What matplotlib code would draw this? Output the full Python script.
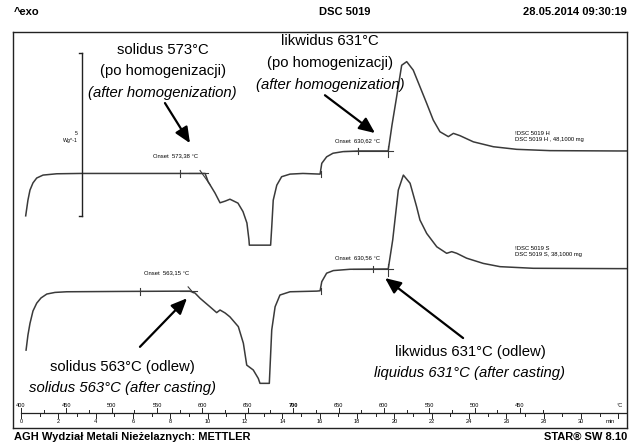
import matplotlib
matplotlib.use('Agg')
import matplotlib.pyplot as plt
from matplotlib import font_manager as fm

names = {f.name for f in fm.fontManager.ttflist}
if 'Liberation Sans Narrow' in names:
    FAM, K = 'Liberation Sans Narrow', 1.0
else:
    FAM, K = 'Liberation Sans', 0.84
plt.rcParams['font.family'] = [FAM, 'DejaVu Sans']

# ---------------- data: DSC curves (time in min, heat flow in W/g, offset) ----------------
t_H = [0.25, 0.37, 0.48, 0.64, 0.84, 1.18, 1.91, 3.16, 6.91, 8.25, 9.48, 9.86, 10.02, 10.39,
       10.66, 10.93, 11.19, 11.62, 11.89, 12.10, 12.21, 12.23, 13.37, 13.43, 13.51, 13.70,
       13.96, 14.41, 15.10, 16.02, 16.11, 16.37, 16.71, 17.25, 18.16, 19.67, 19.87, 20.12,
       20.39, 20.66, 21.01, 21.37, 21.73, 22.08, 22.44, 22.89, 23.16, 23.51, 24.23, 25.30,
       26.55, 28.33, 31.91, 32.46]
q_H = [6.51, 6.99, 7.30, 7.52, 7.67, 7.76, 7.80, 7.81, 7.81, 7.81, 7.81, 7.81, 7.56, 7.21,
       6.91, 6.96, 7.02, 6.90, 6.64, 6.29, 5.77, 5.61, 5.61, 6.17, 6.99, 7.45,
       7.71, 7.79, 7.81, 7.79, 8.12, 8.32, 8.43, 8.48, 8.50, 8.50, 9.29, 10.16,
       11.13, 11.24, 10.98, 10.47, 9.96, 9.45, 9.09, 8.94, 9.04, 8.97, 8.78, 8.63,
       8.55, 8.51, 8.50, 8.50]

t_S = [0.27, 0.37, 0.48, 0.64, 0.84, 1.07, 1.38, 1.82, 2.45, 5.30, 9.05, 9.32, 9.59, 10.12,
       10.48, 10.66, 10.93, 11.19, 11.64, 11.91, 12.09, 12.44, 12.71, 12.80, 13.30, 13.43,
       13.61, 13.87, 14.41, 15.84, 16.02, 16.11, 16.37, 16.73, 17.62, 19.67, 19.91, 20.21,
       20.48, 20.84, 21.19, 21.37, 21.73, 22.27, 22.80, 23.07, 23.34, 23.87, 24.76, 25.66,
       27.44, 31.91, 32.46]
q_S = [2.39, 2.85, 3.21, 3.59, 3.83, 3.99, 4.11, 4.16, 4.18, 4.19, 4.20, 4.14, 3.98, 3.72,
       3.54, 3.62, 3.53, 3.41, 3.11, 2.60, 1.93, 1.78, 1.52, 1.37, 1.37, 3.01,
       3.72, 4.08, 4.18, 4.20, 4.21, 4.49, 4.75, 4.83, 4.87, 4.88, 5.77, 7.30,
       7.76, 7.51, 6.79, 6.38, 5.97, 5.56, 5.36, 5.41, 5.36, 5.21, 5.05, 4.95,
       4.90, 4.89, 4.89]

# onset values / labels
onset_labels = ['Onset  573,38 °C', 'Onset  630,62 °C', 'Onset  563,15 °C', 'Onset  630,56 °C']
sample_H = ['!DSC 5019 H', 'DSC 5019 H , 48,1000 mg']
sample_S = ['!DSC 5019 S', 'DSC 5019 S, 38,1000 mg']

# temperature program (for the temperature scale)
T_start, T_max, rate = 400, 700, 20.58
temp_labels = [400, 450, 500, 550, 600, 650, 700, 650, 600, 550, 500, 450]
time_ticks = list(range(0, 33))
time_labels = list(range(0, 31, 2))

header = ['^exo', 'DSC 5019', '28.05.2014 09:30:19']
footer = ['AGH Wydział Metali Nieżelaznych: METTLER', 'STAR® SW 8.10']

# ---------------- figure ----------------
W, H = 629, 444
fig = plt.figure(figsize=(W / 100, H / 100), dpi=100)
ax = fig.add_axes([13 / W, 16 / H, 614 / W, 396 / H])
ax.set_xlim(-0.43, 32.46)
ax.set_ylim(0, 12.15)
ax.set_xticks([]); ax.set_yticks([])
for s in ax.spines.values():
    s.set_linewidth(1.0)
    s.set_color('#222222')

CC = '#3a3a3a'
ax.plot(t_H, q_H, color=CC, lw=1.1)
ax.plot(t_S, q_S, color=CC, lw=1.1)

# onset constructions (baseline extensions + tangents)
lk = dict(color=CC, lw=0.8)
ax.plot([9.0, 10.0], [7.81, 7.81], **lk)
ax.plot([9.59, 10.12], [7.90, 7.47], **lk)
ax.plot([17.3, 19.95], [8.50, 8.50], **lk)
ax.plot([19.67, 19.67], [8.65, 8.32], **lk)
ax.plot([8.5, 9.45], [4.20, 4.20], **lk)
ax.plot([8.95, 9.22], [4.33, 4.15], **lk)
ax.plot([17.8, 19.95], [4.88, 4.88], **lk)
ax.plot([19.67, 19.67], [5.03, 4.66], **lk)
# integration limit marks
for tt, qq in [(8.52, 7.81), (18.05, 8.50), (16.06, 7.80), (6.37, 4.19), (18.85, 4.88), (16.06, 4.20)]:
    ax.plot([tt, tt], [qq - 0.1, qq + 0.1], **lk)

# scale bar 5 W/g
ax.plot([3.25, 3.25], [6.50, 11.51], color='#222222', lw=1.0)
ax.plot([3.12, 3.25], [6.50, 6.50], color='#222222', lw=1.0)
ax.plot([3.12, 3.25], [11.51, 11.51], color='#222222', lw=1.0)
ax.text(3.05, 9.03, '5', fontsize=4.4 * K, ha='right', va='center')
ax.text(3.05, 8.82, 'Wg^-1', fontsize=4.4 * K, ha='right', va='center')

# small labels
sf = 5.0 * K
ax.text(7.07, 8.35, onset_labels[0], fontsize=sf, va='center')
ax.text(16.82, 8.81, onset_labels[1], fontsize=sf, va='center')
ax.text(6.59, 4.76, onset_labels[2], fontsize=sf, va='center')
ax.text(16.82, 5.21, onset_labels[3], fontsize=sf, va='center')
ax.text(26.46, 9.05, sample_H[0], fontsize=sf, va='center')
ax.text(26.46, 8.84, sample_H[1], fontsize=sf, va='center')
ax.text(26.46, 5.52, sample_S[0], fontsize=sf, va='center')
ax.text(26.46, 5.33, sample_S[1], fontsize=sf, va='center')

# big annotations
bf = 12.8 * K
ax.text(7.59, 11.60, 'solidus 573°C', fontsize=bf, ha='center', va='center')
ax.text(7.59, 10.94, '(po homogenizacji)', fontsize=bf, ha='center', va='center')
ax.text(7.59, 10.27, '(after homogenization)', fontsize=bf, ha='center', va='center', style='italic')
ax.text(16.55, 11.87, 'likwidus 631°C', fontsize=bf, ha='center', va='center')
ax.text(16.55, 11.20, '(po homogenizacji)', fontsize=bf, ha='center', va='center')
ax.text(16.55, 10.52, '(after homogenization)', fontsize=bf, ha='center', va='center', style='italic')
ax.text(5.41, 1.88, 'solidus 563°C (odlew)', fontsize=bf, ha='center', va='center')
ax.text(5.41, 1.23, 'solidus 563°C (after casting)', fontsize=bf, ha='center', va='center', style='italic')
ax.text(24.05, 2.34, 'likwidus 631°C (odlew)', fontsize=bf, ha='center', va='center')
ax.text(24.05, 1.69, 'liquidus 631°C (after casting)', fontsize=bf, ha='center', va='center', style='italic')

ap = dict(arrowstyle='-|>,head_length=0.95,head_width=0.42', lw=1.6, color='black',
          mutation_scale=10, shrinkA=0, shrinkB=0)
ax.annotate('', xy=(9.05, 8.74), xytext=(7.71, 9.97), arrowprops=ap)
ax.annotate('', xy=(18.96, 9.05), xytext=(16.28, 10.21), arrowprops=ap)
ax.annotate('', xy=(8.89, 3.98), xytext=(6.37, 2.49), arrowprops=ap)
ax.annotate('', xy=(19.50, 4.60), xytext=(23.68, 2.76), arrowprops=ap)

# bottom time / temperature scale
yl = 0.46
ax.plot([0, 32.46], [yl, yl], color='#222222', lw=0.9)
for t in time_ticks:
    L = 0.15 if t % 2 == 0 else 0.09
    ax.plot([t, t], [yl, yl - L], color='#222222', lw=0.7)
for t in time_labels:
    ax.text(t, 0.19, str(t), fontsize=4.8 * K, ha='center', va='center')
ax.text(31.55, 0.19, 'min', fontsize=4.8 * K, ha='center', va='center')
t_peak = (T_max - T_start) / rate
for i, T in enumerate(temp_labels):
    tt = (T - T_start) / rate if i <= 6 else t_peak + (T_max - T) / rate
    ax.plot([tt, tt], [yl, yl + 0.15], color='#222222', lw=0.7)
    ax.text(tt, 0.68, str(T), fontsize=4.8 * K, ha='center', va='center',
            fontweight='bold' if T == T_max else 'normal')
for T in range(T_start + 25, T_max, 50):
    ax.plot([(T - T_start) / rate] * 2, [yl, yl + 0.09], color='#222222', lw=0.7)
    ax.plot([t_peak + (T_max - T) / rate] * 2, [yl, yl + 0.09], color='#222222', lw=0.7)
ax.text(32.05, 0.68, '°C', fontsize=4.8 * K, ha='center', va='center')

# header / footer
hf = 9.5 * K
fig.text(14 / W, 1 - 12 / H, header[0], fontsize=hf, fontweight='bold', ha='left', va='center')
fig.text(345 / W, 1 - 12 / H, header[1], fontsize=hf, fontweight='bold', ha='center', va='center')
fig.text(627 / W, 1 - 12 / H, header[2], fontsize=hf, fontweight='bold', ha='right', va='center')
fig.text(14 / W, 1 - 437 / H, footer[0], fontsize=hf, fontweight='bold', ha='left', va='center')
fig.text(627 / W, 1 - 437 / H, footer[1], fontsize=hf, fontweight='bold', ha='right', va='center')

fig.savefig('out.png', dpi=100)
